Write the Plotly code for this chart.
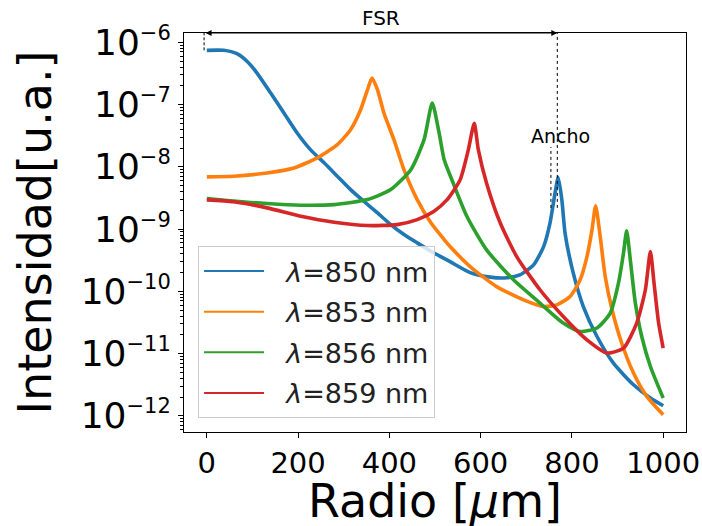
import plotly.graph_objects as go

# Radial intensity profiles of the ring modes for four wavelengths
radius_850 = [0, 37, 66, 88, 110, 140, 169, 198, 227, 257, 286, 315, 344, 374, 403, 432,
              461, 491, 533, 577, 621, 657, 686, 716, 738, 752, 763, 770, 778, 785,
              803, 825, 855, 891, 935, 972, 1000]
intensity_850 = [7.44e-7, 7.44e-7, 6.56e-7, 4.96e-7, 3.21e-7, 1.53e-7, 7.33e-8, 3.5e-8,
                 1.89e-8, 1.16e-8, 7.07e-9, 4.31e-9, 2.8e-9, 1.82e-9, 1.18e-9, 8.16e-10,
                 6.0e-10, 4.41e-10, 3.0e-10, 2.0e-10, 1.69e-10, 1.65e-10, 1.84e-10,
                 2.66e-10, 5.24e-10, 1.25e-9, 3.77e-9, 6.8e-9, 2.94e-9, 8.6e-10,
                 1.96e-10, 5.7e-11, 1.88e-11, 7.0e-12, 3.15e-12, 1.93e-12, 1.45e-12]

radius_853 = [0, 59, 132, 191, 242, 286, 315, 337, 352, 362, 374, 388, 410, 432, 461,
              491, 520, 533, 577, 635, 694, 738, 767, 796, 818, 833, 844, 852, 862, 873,
              888, 909, 935, 964, 1000]
intensity_853 = [6.89e-9, 7.06e-9, 7.98e-9, 9.6e-9, 1.39e-8, 2.27e-8, 3.95e-8, 8.28e-8,
                 1.73e-7, 2.67e-7, 1.73e-7, 7.33e-8, 2.73e-8, 9.0e-9, 2.97e-9, 1.26e-9,
                 6.78e-10, 5.24e-10, 2.5e-10, 1.19e-10, 7.3e-11, 5.7e-11, 6.07e-11,
                 8.26e-11, 1.53e-10, 3.62e-10, 9.7e-10, 2.36e-9, 7.6e-10, 1.73e-10,
                 5.05e-11, 1.48e-11, 4.86e-12, 2.05e-12, 1.04e-12]

radius_856 = [0, 59, 132, 206, 279, 352, 403, 447, 476, 494, 509, 520, 540, 570, 613,
              672, 730, 781, 818, 855, 884, 902, 913, 920, 928, 939, 953, 972, 1000]
intensity_856 = [3.09e-9, 2.81e-9, 2.57e-9, 2.42e-9, 2.47e-9, 2.98e-9, 4.31e-9, 9.0e-9,
                 2.73e-8, 1.06e-7, 3.5e-8, 1.31e-8, 5.46e-9, 1.59e-9, 4.63e-10, 1.53e-10,
                 6.47e-11, 3.09e-11, 2.26e-11, 2.57e-11, 4.47e-11, 1.35e-10, 4.1e-10,
                 9.35e-10, 3.2e-10, 6.47e-11, 1.88e-11, 6.2e-12, 1.93e-12]

radius_859 = [0, 59, 132, 206, 279, 352, 417, 461, 498, 526, 555, 573, 586, 595, 613,
              643, 679, 730, 781, 833, 877, 913, 942, 961, 972, 980, 990, 1000]
intensity_859 = [2.95e-9, 2.75e-9, 2.19e-9, 1.61e-9, 1.29e-9, 1.14e-9, 1.18e-9, 1.42e-9,
                 1.94e-9, 2.94e-9, 6.17e-9, 1.87e-8, 5.0e-8, 1.87e-8, 5.46e-9, 1.25e-9,
                 3.62e-10, 1.06e-10, 3.94e-11, 1.66e-11, 1.02e-11, 1.22e-11, 3.09e-11,
                 1.06e-10, 4.36e-10, 1.35e-10, 3.09e-11, 1.22e-11]

series_names = ["850", "853", "856", "859"]
series_colors = ["#1f77b4", "#ff7f0e", "#2ca02c", "#d62728"]
series_radius = [radius_850, radius_853, radius_856, radius_859]
series_intensity = [intensity_850, intensity_853, intensity_856, intensity_859]

y_tick_exponents = [-12, -11, -10, -9, -8, -7, -6]
x_tick_values = [0, 200, 400, 600, 800, 1000]

# Free spectral range marker and resonance width markers
fsr_start = -6
fsr_end = 768
fsr_log_level = -5.85
start_level = 7.44e-7
width_left = 754
width_right = 768
width_bottom = 10 ** -8.66
width_left_top = 10 ** -7.68

FONT = "DejaVu Sans"
NBSP = "\u00a0"

fig = go.Figure()
for name, color, r, inten in zip(series_names, series_colors, series_radius, series_intensity):
    fig.add_trace(go.Scatter(
        x=r, y=inten, mode="lines", showlegend=False,
        legendgroup=name,
        line=dict(color=color, width=3.6, shape="spline", smoothing=0.6),
    ))
# Legend entries drawn with a thinner sample line
for name, color in zip(series_names, series_colors):
    fig.add_trace(go.Scatter(
        x=[None], y=[None], mode="lines",
        name=f"{NBSP * 2}<i>λ</i>={name} nm",
        legendgroup=name,
        line=dict(color=color, width=2),
    ))

# FSR double arrow along the top spine
fig.add_annotation(
    x=fsr_end, y=fsr_log_level, ax=fsr_start, ay=fsr_log_level,
    xref="x", yref="y", axref="x", ayref="y",
    text="", showarrow=True, arrowside="end+start",
    arrowhead=2, arrowsize=1.2, arrowwidth=1, arrowcolor="black",
    standoff=0, startstandoff=0,
)
fig.add_annotation(
    x=(fsr_start + fsr_end) / 2, y=fsr_log_level, xref="x", yref="y",
    text="FSR", showarrow=False, yanchor="bottom", yshift=1,
    font=dict(family=FONT, size=20, color="black"),
)
fig.add_shape(type="line", xref="x", yref="y",
              x0=fsr_start, x1=fsr_start, y0=start_level, y1=10 ** fsr_log_level,
              line=dict(color="black", width=1, dash="3px,2px"))
fig.add_shape(type="line", xref="x", yref="y",
              x0=width_right, x1=width_right, y0=width_bottom, y1=10 ** fsr_log_level,
              line=dict(color="black", width=1, dash="dot"))
fig.add_shape(type="line", xref="x", yref="y",
              x0=width_left, x1=width_left, y0=width_bottom, y1=width_left_top,
              line=dict(color="black", width=1, dash="dot"))
fig.add_annotation(
    x=775, y=-7.5, xref="x", yref="y",
    text="Ancho", showarrow=False,
    font=dict(family=FONT, size=19, color="black"),
)

# x-axis title placed below the tick labels
fig.add_annotation(
    x=0.5, y=-0.173, xref="paper", yref="paper",
    xanchor="center", yanchor="middle",
    text="Radio [<i>μ</i>m]", showarrow=False,
    font=dict(family=FONT, size=46, color="black"),
)

fig.update_layout(
    width=702, height=526,
    margin=dict(l=184, r=16, t=33, b=94),
    paper_bgcolor="white", plot_bgcolor="white",
    font=dict(family=FONT, color="black"),
    legend=dict(
        x=0.028, y=0.035, xanchor="left", yanchor="bottom",
        bgcolor="rgba(255,255,255,0.8)", bordercolor="#cccccc", borderwidth=1,
        font=dict(family=FONT, size=27, color="#222"),
        tracegroupgap=2.5, itemwidth=60,
    ),
    showlegend=True,
)

fig.update_xaxes(
    range=[-50, 1050], tickvals=x_tick_values, automargin=False,
    ticks="outside", ticklen=5, tickwidth=1, tickcolor="black",
    ticklabelstandoff=0,
    showline=True, linecolor="black", linewidth=1, mirror=True,
    showgrid=False, zeroline=False,
    tickfont=dict(family=FONT, size=29, color="black"),
)
fig.update_yaxes(
    type="log", range=[-12.26, fsr_log_level], automargin=False,
    tickvals=[10 ** e for e in y_tick_exponents],
    ticktext=[f"10<sup><span style='font-size:21px'>−{-e}</span></sup>" for e in y_tick_exponents],
    ticks="outside", ticklen=5, tickwidth=1, tickcolor="black",
    minor=dict(ticks="outside", ticklen=3, tickcolor="black", dtick="D1", showgrid=False),
    showline=True, linecolor="black", linewidth=1, mirror=True,
    showgrid=False, zeroline=False,
    tickfont=dict(family=FONT, size=36, color="black"),
    title=dict(text="Intensidad[u.a.]", font=dict(family=FONT, size=46, color="black"), standoff=14),
)

fig.write_html("out.html")
